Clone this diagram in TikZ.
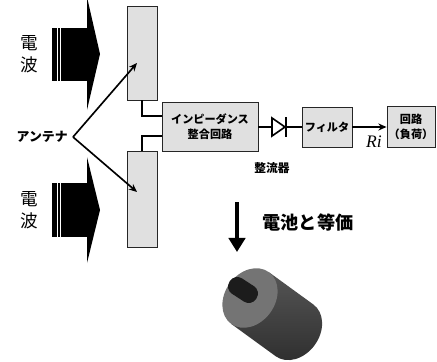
\documentclass[tikz,border=0pt]{standalone}
\usepackage{fontspec}
\newfontfamily\jp{Noto Sans CJK JP}
\newfontfamily\rmlabel{Liberation Serif}
\usetikzlibrary{arrows.meta,positioning}
\definecolor{panel}{HTML}{E0E0E0}
\definecolor{capface}{HTML}{747474}
\definecolor{capside}{HTML}{555555}
\definecolor{capshadow}{HTML}{2E2E2E}
\definecolor{capslot}{HTML}{1C1C1C}
\begin{document}
\begin{tikzpicture}[x=0.03cm,y=-0.03cm,
    block/.style={draw=black!85,line width=0.8pt,fill=panel,inner sep=0pt,align=center,
      font=\jp\bfseries\fontsize{9.5}{13}\selectfont},
    wire/.style={line width=1.4pt},
    feed/.style={line width=1.4pt,-{Stealth[length=7pt,width=6pt]}},
    wave/.style={fill=black}]
    \useasboundingbox (0,0) rectangle (437,362);

    % Incoming waves
    \fill[wave] (52,28) rectangle (87,81);
    \fill[wave] (87,-3) -- (100,54) -- (87,110) -- cycle;
    \fill[wave] (52,183) rectangle (87,237);
    \fill[wave] (87,157) -- (100,210) -- (87,263) -- cycle;
    \foreach \y/\h in {28/81,183/237} {
        \draw[white,line width=0.5pt] (57,\y) -- (57,\h);
        \draw[white,line width=0.5pt] (60,\y) -- (60,\h);
    }
    \node[font=\jp\fontsize{15}{19}\selectfont,align=center] (wavetop) at (29,54) {電\\波};
    \node[font=\jp\fontsize{15}{19}\selectfont,align=center] (wavebot) at (29,210) {電\\波};

    % Antenna panels
    \node[block,minimum width=0.9cm,minimum height=2.82cm] (anttop) at (142,53) {};
    \node[block,minimum width=0.9cm,minimum height=2.88cm] (antbot) at (142,199) {};
    \coordinate (ant) at (73,137);
    \coordinate (tiptop) at (137,63);
    \coordinate (tipbot) at (137,192);
    \node[left=1pt of ant,font=\jp\bfseries\fontsize{11}{13}\selectfont] (antlabel) {アンテナ};
    \draw[feed] (ant) -- (tiptop);
    \draw[feed] (ant) -- (tipbot);

    % Matching, rectifier, filter, load
    \node[block,minimum width=2.88cm,minimum height=1.47cm] (match) at (210,126.5)
        {インピーダンス\\整合回路};
    \draw[wire] (anttop.south) |- (match.west |- 0,116);
    \draw[wire] (antbot.north) |- (match.west |- 0,136);

    \coordinate (dioin) at (272,127);
    \coordinate (dioout) at (286,127);
    \draw[wire] (match.east |- dioin) -- (dioin);
    \draw[wire,fill=white,line join=miter] (272,118) -- (285,127) -- (272,136) -- cycle;
    \draw[line width=1.8pt] (286,117) -- (286,137);
    \node[font=\jp\bfseries\fontsize{10}{12}\selectfont] (rectlabel) at (272,168) {整流器};

    \node[block,minimum width=1.5cm,minimum height=1.2cm] (filter) at (327,127) {フィルタ};
    \draw[wire] (dioout) -- (filter.west);
    \node[block,minimum width=1.44cm,minimum height=1.23cm] (load) at (411,126.5)
        {回路\\（負荷）};
    \draw[feed] (filter.east) -- (load.west |- filter.east);
    \node[font=\rmlabel\itshape\fontsize{15}{15}\selectfont] (ri) at (374,142) {Ri};

    % Equivalent battery
    \coordinate (dtop) at (237,202);
    \coordinate (dbot) at (237,252);
    \draw[line width=3.4pt,-{Triangle[length=12pt,width=14pt]}] (dtop) -- (dbot);
    \node[font=\jp\bfseries\fontsize{15.5}{18}\selectfont] (battlabel) at (308,223) {電池と等価};

    \begin{scope}[shift={(250,298)},rotate=-36]
        \shade[top color=capside,bottom color=capshadow]
            (0,-32) -- (55,-32) arc[start angle=-90,end angle=90,x radius=25,y radius=32]
            -- (0,32) -- cycle;
        \fill[capface] (0,0) ellipse[x radius=25,y radius=32];
    \end{scope}
    \node[fill=capslot,rotate=-33,minimum width=0.95cm,minimum height=0.55cm,
          rounded corners=0.26cm,inner sep=0pt] (slot) at (243,290) {};
\end{tikzpicture}
\end{document}
